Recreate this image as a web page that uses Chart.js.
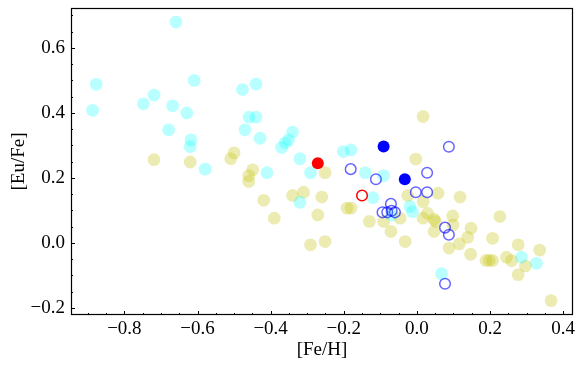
<!DOCTYPE html>
<html>
<head>
<meta charset="utf-8">
<script src="https://cdn.jsdelivr.net/npm/chart.js@4/dist/chart.umd.min.js"></script>
<style>
  html, body { margin: 0; padding: 0; background: #fff; }
</style>
</head>
<body>
<canvas id="chart" width="582" height="368"></canvas>
<script>
(function() {
  'use strict';

  // axis ticks
  var xTicks = [-0.8, -0.6, -0.4, -0.2, 0.0, 0.2, 0.4];
  var yTicks = [-0.2, 0.0, 0.2, 0.4, 0.6];
  var xMin = -0.946, xMax = 0.427;
  var yMin = -0.222, yMax = 0.723;

  // cyan sample
  var cyanFeH = [-0.659, -0.877, -0.609, -0.887, -0.719, -0.748, -0.668, -0.629, -0.679, -0.618,
                 -0.620, -0.477, -0.470, -0.459, -0.440, -0.440, -0.429, -0.340, -0.351, -0.360,
                 -0.370, -0.320, -0.2015, -0.180, -0.410, -0.291, -0.141, -0.091, -0.320, -0.120,
                 -0.019, -0.012, -0.069, 0.0675, 0.286, 0.327, -0.579];
  var cyanEuFe = [0.680, 0.488, 0.500, 0.408, 0.455, 0.428, 0.422, 0.400, 0.348, 0.317,
                  0.296, 0.472, 0.348, 0.387, 0.387, 0.489, 0.322, 0.341, 0.317, 0.308,
                  0.294, 0.259, 0.281, 0.286, 0.216, 0.216, 0.216, 0.207, 0.125, 0.139,
                  0.112, 0.096, 0.086, -0.095, -0.044, -0.063, 0.227];

  // olive sample
  var oliveFeH = [-0.719, -0.620, -0.500, -0.509, -0.449, -0.460, -0.460, -0.419, -0.390, -0.251,
                  -0.340, -0.310, -0.260, -0.271, -0.191, -0.180, -0.291, -0.251, -0.130, -0.091,
                  -0.071, -0.032, -0.046, -0.025, 0.017, -0.003, 0.058, 0.118, 0.017, 0.227,
                  0.098, 0.029, 0.017, 0.047, 0.051, 0.047, 0.099, 0.148, 0.139, 0.116,
                  0.088, 0.147, 0.207, 0.189, 0.198, 0.207, 0.245, 0.259, 0.277, 0.297,
                  0.277, 0.336, 0.367];
  var oliveEuFe = [0.256, 0.249, 0.277, 0.259, 0.225, 0.207, 0.189, 0.131, 0.076, 0.216,
                   0.146, 0.156, 0.141, 0.086, 0.107, 0.107, -0.006, 0.004, 0.066, 0.066,
                   0.035, 0.004, 0.076, 0.146, 0.389, 0.258, 0.153, 0.141, 0.127, 0.081,
                   0.083, 0.091, 0.076, 0.073, 0.066, 0.035, 0.055, 0.045, 0.017, -0.003,
                   -0.016, -0.035, 0.014, -0.054, -0.054, -0.054, -0.044, -0.055, -0.006, -0.071,
                   -0.098, -0.022, -0.178];

  // blue open circles
  var openFeH = [0.0875, -0.181, -0.112, 0.028, -0.003, 0.028, -0.071, -0.094, -0.081, -0.069,
                 -0.060, 0.077, 0.0875, 0.077];
  var openEuFe = [0.296, 0.227, 0.196, 0.216, 0.156, 0.156, 0.120, 0.094, 0.094, 0.099,
                  0.094, 0.047, 0.025, -0.126];

  // blue filled
  var blueFeH = [-0.091, -0.033];
  var blueEuFe = [0.297, 0.196];

  // red filled / red open
  var redFeH = [-0.271];
  var redEuFe = [0.245];
  var redOpenFeH = [-0.150];
  var redOpenEuFe = [0.146];

  function pts(xs, ys) {
    return xs.map(function(x, i) { return {x: x, y: ys[i]}; });
  }

  function fmt(v) {
    return v.toFixed(1).replace('-', '\u2212');
  }

  // inward ticks + frame
  var frameTicks = {
    id: 'frameTicks',
    afterDatasetsDraw: function(chart) {
      var ctx = chart.ctx, a = chart.chartArea;
      var xs = chart.scales.x, ys = chart.scales.y;
      var k, v, p, len;
      ctx.save();
      ctx.strokeStyle = '#000';
      ctx.lineWidth = 1;
      ctx.beginPath();
      for (k = Math.ceil(xMin / 0.05); k <= Math.floor(xMax / 0.05); k++) {
        v = k * 0.05;
        p = Math.round(xs.getPixelForValue(v)) + 0.5;
        len = (k % 4 === 0) ? 4 : 2;
        ctx.moveTo(p, a.bottom);
        ctx.lineTo(p, a.bottom - len);
      }
      for (k = Math.ceil(yMin / 0.05); k <= Math.floor(yMax / 0.05); k++) {
        v = k * 0.05;
        p = Math.round(ys.getPixelForValue(v)) + 0.5;
        len = (k % 4 === 0) ? 4 : 2;
        ctx.moveTo(a.left, p);
        ctx.lineTo(a.left + len, p);
      }
      ctx.stroke();
      ctx.lineWidth = 1.2;
      ctx.strokeRect(a.left + 0.5, a.top + 0.5, a.right - a.left - 1, a.bottom - a.top - 1);
      ctx.restore();
    }
  };

  var serif = {family: '"Liberation Serif", "Times New Roman", serif', size: 19};

  var config = {
    type: 'scatter',
    data: {
      datasets: [{
        label: 'red',
        data: pts(redFeH, redEuFe),
        pointRadius: 6,
        backgroundColor: '#ff0000',
        borderWidth: 0
      }, {
        label: 'red open',
        data: pts(redOpenFeH, redOpenEuFe),
        pointRadius: 5.3,
        backgroundColor: 'rgba(0,0,0,0)',
        borderColor: '#ff0000',
        borderWidth: 1.5
      }, {
        label: 'blue',
        data: pts(blueFeH, blueEuFe),
        pointRadius: 6,
        backgroundColor: '#0000ff',
        borderWidth: 0
      }, {
        label: 'blue open',
        data: pts(openFeH, openEuFe),
        pointRadius: 5.3,
        backgroundColor: 'rgba(0,0,0,0)',
        borderColor: 'rgba(0,0,255,0.6)',
        borderWidth: 1.5
      }, {
        label: 'cyan',
        data: pts(cyanFeH, cyanEuFe),
        pointRadius: 6.4,
        backgroundColor: 'rgba(0,255,255,0.27)',
        borderWidth: 0
      }, {
        label: 'olive',
        data: pts(oliveFeH, oliveEuFe),
        pointRadius: 6.4,
        backgroundColor: 'rgba(191,191,0,0.3)',
        borderWidth: 0
      }]
    },
    options: {
      responsive: false,
      animation: false,
      devicePixelRatio: 1,
      layout: {padding: {top: 8, right: 9, left: 0, bottom: 0}},
      plugins: {legend: {display: false}, tooltip: {enabled: false}},
      elements: {point: {hoverRadius: 6}},
      scales: {
        x: {
          type: 'linear',
          min: xMin,
          max: xMax,
          grid: {display: false, drawTicks: false},
          border: {display: false},
          afterBuildTicks: function(s) { s.ticks = xTicks.map(function(v) { return {value: v}; }); },
          afterFit: function(s) { s.height = 53; s.paddingLeft = 0; s.paddingRight = 0; },
          ticks: {color: '#000', font: serif, padding: 3, maxRotation: 0, callback: fmt},
          title: {display: true, text: '[Fe/H]', color: '#000', font: serif, padding: {top: 0, bottom: 7}}
        },
        y: {
          type: 'linear',
          min: yMin,
          max: yMax,
          grid: {display: false, drawTicks: false},
          border: {display: false},
          afterBuildTicks: function(s) { s.ticks = yTicks.map(function(v) { return {value: v}; }); },
          afterFit: function(s) { s.width = 71; s.paddingTop = 0; s.paddingBottom = 0; },
          ticks: {color: '#000', font: serif, padding: 6, callback: fmt},
          title: {display: true, text: '[Eu/Fe]', color: '#000', font: serif, padding: {top: 8, bottom: 0}}
        }
      }
    },
    plugins: [frameTicks]
  };

  var ctx = document.getElementById('chart').getContext('2d');
  new Chart(ctx, config);
})();
</script>
</body>
</html>
